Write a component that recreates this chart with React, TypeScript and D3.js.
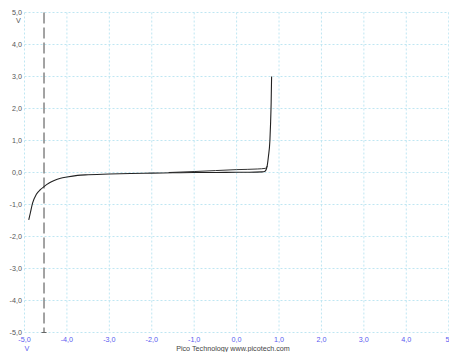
import React from "react";
import * as d3 from "d3";

// Diode I–V trace (X: volts across, Y: volts on channel B)
const sweepX = [-4.9, -4.86, -4.81, -4.72, -4.62, -4.54, -4.42, -4.3, -4.15, -4.0, -3.75, -3.5, -3.0, -2.5, -2.0, -1.5, -1.0, -0.5, 0.0, 0.3, 0.6, 0.67, 0.7, 0.72, 0.75, 0.785, 0.8, 0.815, 0.825];
const sweepY = [-1.48, -1.25, -0.96, -0.68, -0.53, -0.44, -0.33, -0.25, -0.18, -0.14, -0.09, -0.07, -0.045, -0.03, -0.02, -0.01, 0.0, 0.0, 0.01, 0.01, 0.02, 0.04, 0.1, 0.2, 0.5, 1.0, 1.5, 2.2, 3.0];

// Return path, sitting a little higher before the knee
const returnX = [-1.6, -1.0, -0.5, 0.0, 0.5, 0.68, 0.71, 0.72];
const returnY = [0.0, 0.03, 0.06, 0.09, 0.11, 0.13, 0.17, 0.2];

const tickValues = [-5, -4, -3, -2, -1, 0, 1, 2, 3, 4, 5];
const markerX = -4.54;

const W = 449;
const H = 352;

export default function App() {
  const x = d3.scaleLinear().domain([-5, 5]).range([24.5, 448.7]);
  const y = d3.scaleLinear().domain([-5, 5]).range([332.5, 12.5]);

  const line = d3
    .line<[number, number]>()
    .x((d) => x(d[0]))
    .y((d) => y(d[1]))
    .curve(d3.curveMonotoneX);

  const sweep = sweepX.map((v, i) => [v, sweepY[i]] as [number, number]);
  const back = returnX.map((v, i) => [v, returnY[i]] as [number, number]);

  const fmt = (v: number) => v.toFixed(1).replace(".", ",");
  const font = "'Liberation Sans', Arial, sans-serif";
  const gridColor = "#bfe6f2";
  const fs = 7.2;

  return (
    <svg
      width={W}
      height={H}
      style={{ position: "absolute", left: 0, top: 0, background: "#fff" }}
      fontFamily={font}
    >
      {/* grid */}
      {tickValues.map((t) => (
        <line
          key={"gx" + t}
          x1={x(t)}
          x2={x(t)}
          y1={y(5)}
          y2={y(-5)}
          stroke={gridColor}
          strokeWidth={1}
          strokeDasharray="2,2"
        />
      ))}
      {tickValues.map((t) => (
        <line
          key={"gy" + t}
          x1={x(-5)}
          x2={W}
          y1={y(t)}
          y2={y(t)}
          stroke={gridColor}
          strokeWidth={1}
          strokeDasharray="2,2"
        />
      ))}

      {/* y tick labels */}
      {tickValues.map((t) => (
        <text
          key={"ly" + t}
          x={22}
          y={y(t)}
          dy="0.35em"
          textAnchor="end"
          fontSize={fs}
          fill="#555"
        >
          {fmt(t)}
        </text>
      ))}
      <text x={18.5} y={22.5} textAnchor="middle" fontSize={fs} fill="#555">
        V
      </text>

      {/* x tick labels */}
      {tickValues.map((t) =>
        t === 5 ? (
          <text key={"lx" + t} x={445.5} y={342} textAnchor="start" fontSize={fs} fill="#5a5af0">
            5
          </text>
        ) : (
          <text
            key={"lx" + t}
            x={x(t)}
            y={342}
            textAnchor="middle"
            fontSize={fs}
            fill="#5a5af0"
          >
            {fmt(t)}
          </text>
        )
      )}
      <text x={27} y={350.5} textAnchor="middle" fontSize={fs} fill="#5a5af0">
        V
      </text>
      <text x={233} y={350.5} textAnchor="middle" fontSize={fs} fill="#444">
        Pico Technology  www.picotech.com
      </text>

      {/* marker */}
      <line
        x1={x(markerX)}
        x2={x(markerX)}
        y1={y(5)}
        y2={y(-5)}
        stroke="#666"
        strokeWidth={1.2}
        strokeDasharray="11,4"
      />
      <line
        x1={x(markerX) - 2.5}
        x2={x(markerX) + 2.5}
        y1={y(-5)}
        y2={y(-5)}
        stroke="#666"
        strokeWidth={1}
      />

      {/* traces */}
      <path d={line(back) ?? ""} fill="none" stroke="#333" strokeWidth={1} />
      <path d={line(sweep) ?? ""} fill="none" stroke="#222" strokeWidth={1.1} />
    </svg>
  );
}
